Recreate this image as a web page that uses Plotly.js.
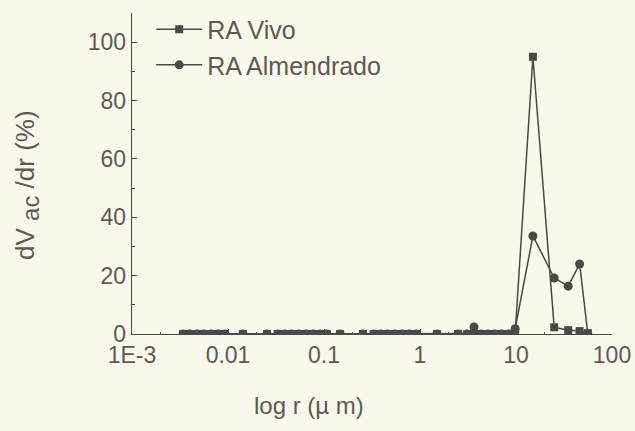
<!DOCTYPE html>
<html>
<head>
<meta charset="utf-8">
<script src="https://cdn.plot.ly/plotly-3.0.1.min.js"></script>
<style>
html,body{margin:0;padding:0;background:#faf8ea;}
#chart{width:635px;height:431px;}
</style>
</head>
<body>
<div id="chart"></div>
<script>
// radius values (µm)
var vivoR = [0.0034, 0.0040, 0.0048, 0.0056, 0.0067, 0.0079, 0.0093, 0.0143, 0.0255,
  0.033, 0.039, 0.046, 0.055, 0.065, 0.077, 0.091, 0.107, 0.147, 0.255,
  0.33, 0.39, 0.46, 0.55, 0.65, 0.77, 0.91, 1.5, 2.49,
  3.1, 3.65, 4.3, 5.1, 6.0, 7.1, 8.4, 9.8,
  15, 25, 35, 46, 56];
var vivoV = [0, 0, 0, 0, 0, 0, 0, 0, 0,
  0, 0, 0, 0, 0, 0, 0, 0, 0, 0,
  0, 0, 0, 0, 0, 0, 0, 0, 0,
  0, 0, 0, 0, 0, 0, 0, 0.2,
  95, 2.3, 1.3, 1.0, 0.3];
var almR = [0.0034, 0.0040, 0.0048, 0.0056, 0.0067, 0.0079, 0.0093, 0.0143, 0.0255,
  0.033, 0.039, 0.046, 0.055, 0.065, 0.077, 0.091, 0.107, 0.147, 0.255,
  0.33, 0.39, 0.46, 0.55, 0.65, 0.77, 0.91, 1.5, 2.49,
  3.1, 3.65, 4.3, 5.1, 6.0, 7.1, 8.4, 9.8,
  15, 25, 35, 46, 56];
var almV = [0, 0, 0, 0, 0, 0, 0, 0, 0,
  0, 0, 0, 0, 0, 0, 0, 0, 0, 0,
  0, 0, 0, 0, 0, 0, 0, 0, 0,
  0, 2.4, 0, 0, 0, 0, 0, 1.8,
  33.6, 19.2, 16.4, 24, 0];
var xTickVals = [0.001, 0.01, 0.1, 1, 10, 100];
var xTickText = ['1E-3', '0.01', '0.1', '1', '10', '100'];
var yTickVals = [0, 20, 40, 60, 80, 100];

var ink = '#4b4845';
var txt = '#5c5a55';
var fnt = 'Liberation Sans, Arial, sans-serif';

var traces = [
  {x: vivoR, y: vivoV, name: 'RA Vivo', type: 'scatter', mode: 'lines+markers',
   line: {color: ink, width: 1.5},
   marker: {symbol: 'square', size: 8, color: ink}},
  {x: almR, y: almV, name: 'RA Almendrado', type: 'scatter', mode: 'lines+markers',
   line: {color: ink, width: 1.5},
   marker: {symbol: 'circle', size: 9, color: ink}}
];

var layout = {
  width: 635, height: 431,
  margin: {l: 132, r: 23, t: 13, b: 97, autoexpand: false},
  paper_bgcolor: '#faf8ea',
  plot_bgcolor: '#faf8ea',
  font: {family: fnt, size: 22, color: txt},
  showlegend: true,
  legend: {x: 0.04, y: 1.02, xanchor: 'left', yanchor: 'top',
           bgcolor: 'rgba(0,0,0,0)', font: {size: 25, color: txt},
           itemwidth: 46, tracegroupgap: 0},
  xaxis: {
    type: 'log', range: [-3, 2],
    showgrid: false, zeroline: false,
    showline: true, linecolor: ink, linewidth: 1.3,
    ticks: 'inside', ticklen: 5, tickcolor: ink, tickwidth: 1,
    tickmode: 'array', tickvals: xTickVals, ticktext: xTickText,
    minor: {ticks: 'inside', ticklen: 2.5, tickcolor: ink, dtick: 'D2'},
    tickfont: {size: 23, color: txt}
  },
  yaxis: {
    range: [0, 110],
    showgrid: false, zeroline: false,
    showline: true, linecolor: ink, linewidth: 1.3,
    ticks: 'inside', ticklen: 5, tickcolor: ink, tickwidth: 1,
    tickmode: 'array', tickvals: yTickVals,
    minor: {ticks: 'inside', ticklen: 3, tickcolor: ink, dtick: 10},
    tickfont: {size: 23, color: txt}
  },
  annotations: [
    {text: 'log r (\u00b5 m)', xref: 'paper', yref: 'paper',
     x: (309 - 132) / 480, y: -(405 - 334) / 321, xanchor: 'center', yanchor: 'middle',
     showarrow: false, font: {size: 24, color: txt}},
    {text: 'dV <sub><span style="font-size:24px">ac</span></sub> /dr (%)', xref: 'paper', yref: 'paper',
     x: -(132 - 27) / 480, y: (334 - 185) / 321, xanchor: 'center', yanchor: 'middle',
     textangle: -90, showarrow: false, font: {size: 26, color: txt}}
  ]
};

Plotly.newPlot('chart', traces, layout, {displayModeBar: false, staticPlot: true});
</script>
</body>
</html>
